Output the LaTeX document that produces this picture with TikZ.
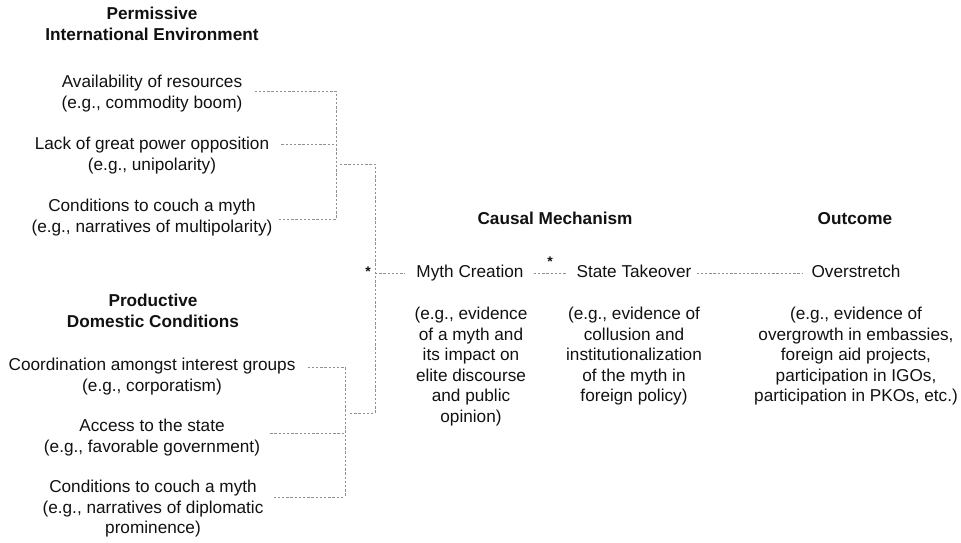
\documentclass[tikz,border=0pt]{standalone}
\usepackage{fontspec}
\setmainfont{Liberation Sans}
\definecolor{txt}{HTML}{111111}
\definecolor{ln}{HTML}{909090}
\tikzset{
  lbl/.style={anchor=north, align=center, inner sep=0pt, text=txt,
    font=\fontsize{17.2}{20.5}\selectfont},
  ttl/.style={lbl, font=\fontsize{17.2}{20.5}\selectfont\bfseries},
  conn/.style={draw=ln, line width=0.8pt, dash pattern=on 2.4pt off 1.8pt},
  starlbl/.style={inner sep=0pt, text=txt, font=\fontsize{14}{14}\selectfont\bfseries}
}
\begin{document}
\begin{tikzpicture}[x=1pt,y=-1pt]
\useasboundingbox (0,0) rectangle (961,543);
% left top group
\node[ttl] (t1) at (152,7) {Permissive\\International Environment};
\node[lbl] (a1) at (152,75) {Availability of resources\\(e.g., commodity boom)};
\node[lbl] (a2) at (152,137) {Lack of great power opposition\\(e.g., unipolarity)};
\node[lbl] (a3) at (152,199) {Conditions to couch a myth\\(e.g., narratives of multipolarity)};
% left bottom group
\node[ttl] (t2) at (153,294) {Productive\\Domestic Conditions};
\node[lbl] (b1) at (152,358) {Coordination amongst interest groups\\(e.g., corporatism)};
\node[lbl] (b2) at (152,419) {Access to the state\\(e.g., favorable government)};
\node[lbl] (b3) at (153,480) {Conditions to couch a myth\\(e.g., narratives of diplomatic\\prominence)};
% middle / right
\node[ttl] (t3) at (555,212) {Causal Mechanism};
\node[ttl] (t4) at (855,212) {Outcome};
\node[lbl] (m1) at (470,265) {Myth Creation};
\node[lbl] (m2) at (634,265) {State Takeover};
\node[lbl] (m3) at (856,265) {Overstretch};
\node[lbl] (d1) at (471,307) {(e.g., evidence\\of a myth and\\its impact on\\elite discourse\\and public\\opinion)};
\node[lbl] (d2) at (634,307) {(e.g., evidence of\\collusion and\\institutionalization\\of the myth in\\foreign policy)};
\node[lbl] (d3) at (856,307) {(e.g., evidence of\\overgrowth in embassies,\\foreign aid projects,\\participation in IGOs,\\participation in PKOs, etc.)};
\node[starlbl] (s1) at (368,272) {*};
\node[starlbl] (s2) at (550,262) {*};
% bus coordinates
\coordinate (ja1) at (336,91);
\coordinate (ja2) at (336,144);
\coordinate (ja3) at (336,219);
\coordinate (jam) at (340,164);
\coordinate (jb1) at (345,367);
\coordinate (jb2) at (345,433);
\coordinate (jb3) at (345,497);
\coordinate (jbm) at (350,413);
\coordinate (spineT) at (375,164);
\coordinate (spineB) at (375,413);
\coordinate (spineM) at (375,273);
% connectors top group
\draw[conn] ([xshift=12pt]a1.east |- ja1) -- (ja1) -- (ja3);
\draw[conn] ([xshift=12pt]a2.north east |- ja2) -- (ja2);
\draw[conn] ([xshift=6pt]a3.east |- ja3) -- (ja3);
\draw[conn] (jam) -- (spineT) -- (spineB);
% connectors bottom group
\draw[conn] ([xshift=12pt]b1.north east |- jb1) -- (jb1) -- (jb3);
\draw[conn] ([xshift=10pt]b2.east |- jb2) -- (jb2);
\draw[conn] ([xshift=10pt]b3.north east |- jb3) -- (jb3);
\draw[conn] (jbm) -- (spineB);
% main chain
\draw[conn] (spineM) -- ([xshift=-11pt]m1.west |- spineM);
\draw[conn] ([xshift=10pt]m1.east |- spineM) -- ([xshift=-10pt]m2.west |- spineM);
\draw[conn] ([xshift=5pt]m2.east |- spineM) -- ([xshift=-9pt]m3.west |- spineM);
\end{tikzpicture}
\end{document}
